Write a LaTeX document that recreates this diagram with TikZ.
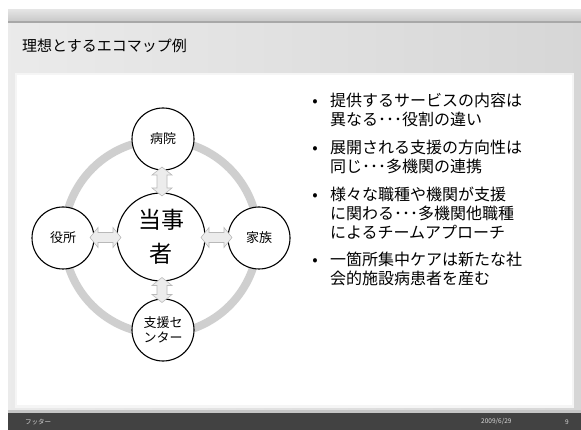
\documentclass[tikz,border=0pt]{standalone}
\usepackage{fontspec}
\setmainfont{Noto Sans CJK JP}
\usetikzlibrary{calc}
\definecolor{footbg}{RGB}{66,66,66}
\tikzset{
  sat/.style={circle,draw=black,line width=1.1pt,fill=white,minimum size=62pt,inner sep=0pt,font=\fontsize{13}{15}\selectfont,align=center},
  hub/.style={circle,draw=black,line width=1.1pt,fill=white,minimum size=88pt,inner sep=0pt,font=\fontsize{23}{34}\selectfont,align=center},
  dblstyle/.style={draw=gray!55,fill=gray!15,line width=0.6pt,line join=miter},
  dbl/.pic={\path[dblstyle] (-#1/2,0) -- (-#1/2+8,10) -- (-#1/2+8,5) -- (#1/2-8,5) -- (#1/2-8,10) -- (#1/2,0) -- (#1/2-8,-10) -- (#1/2-8,-5) -- (-#1/2+8,-5) -- (-#1/2+8,-10) -- cycle;},
  ring/.style={draw=gray!38,line width=8pt},
  bul/.style={anchor=north west,font=\fontsize{16}{19}\selectfont,align=left,inner sep=0pt},
  dot/.style={anchor=base east,font=\fontsize{16}{19}\selectfont,inner sep=0pt},
  foot/.style={font=\fontsize{6.5}{8}\selectfont,text=white!85!black,inner sep=0pt}
}
\begin{document}
\begin{tikzpicture}[x=1pt,y=-1pt]
\useasboundingbox (0,0) rectangle (581,430);
\fill[white] (0,0) rectangle (581,430);
% slide background
\shade[left color=gray!16,right color=gray!32] (8,10) rectangle (581,430);
% header band
\shade[top color=gray!22,bottom color=gray!42] (8,10) rectangle (581,21);
\fill[gray!68] (8,21) rectangle (581,23.5);
% content box
\fill[gray!8] (15,73) rectangle (574,408);
\fill[white] (17,75) rectangle (572,405);
% footer
\fill[gray!45] (8,410) rectangle (581,413);
\fill[footbg] (8,413) rectangle (581,430);
\node[foot,anchor=west] (ft) at (25,422) {フッター};
\node[foot,anchor=west] (fd) at (481,422) {2009/6/29};
\node[foot] (fn) at (567,422) {9};
% title
\node[anchor=base west,inner sep=0pt,font=\fontsize{15}{18}\selectfont] (title) at (22,52) {理想とするエコマップ例};
% ring
\coordinate (rc) at (161,237);
\draw[ring] (rc) circle[radius=97];
% nodes
\node[hub] (c) at (161,237) {当事\\者};
\node[sat] (t) at (163,139) {病院};
\node[sat] (l) at (63,238) {役所};
\node[sat] (r) at (259,238) {家族};
\node[sat] (b) at (163,330) {支援セ\\ンター};
% arrows
\pic[rotate=90] at ($(t.south)!0.5!(c.north)$) {dbl=29};
\pic at ($(l.east)!0.5!(c.west)$) {dbl=31};
\pic at ($(c.east)!0.5!(r.west)$) {dbl=31};
\pic[rotate=90] at ($(c.south)!0.5!(b.north)$) {dbl=25};
% bullets
\node[dot] (d1) at (318,107) {•};
\node[bul] (i1) at (330,93) {提供するサービスの内容は\\異なる･･･役割の違い};
\node[dot] (d2) at (318,154) {•};
\node[bul] (i2) at (330,140) {展開される支援の方向性は\\同じ･･･多機関の連携};
\node[dot] (d3) at (318,201) {•};
\node[bul] (i3) at (330,187) {様々な職種や機関が支援\\に関わる･･･多機関他職種\\によるチームアプローチ};
\node[dot] (d4) at (318,266) {•};
\node[bul] (i4) at (330,252) {一箇所集中ケアは新たな社\\会的施設病患者を産む};
\end{tikzpicture}
\end{document}
